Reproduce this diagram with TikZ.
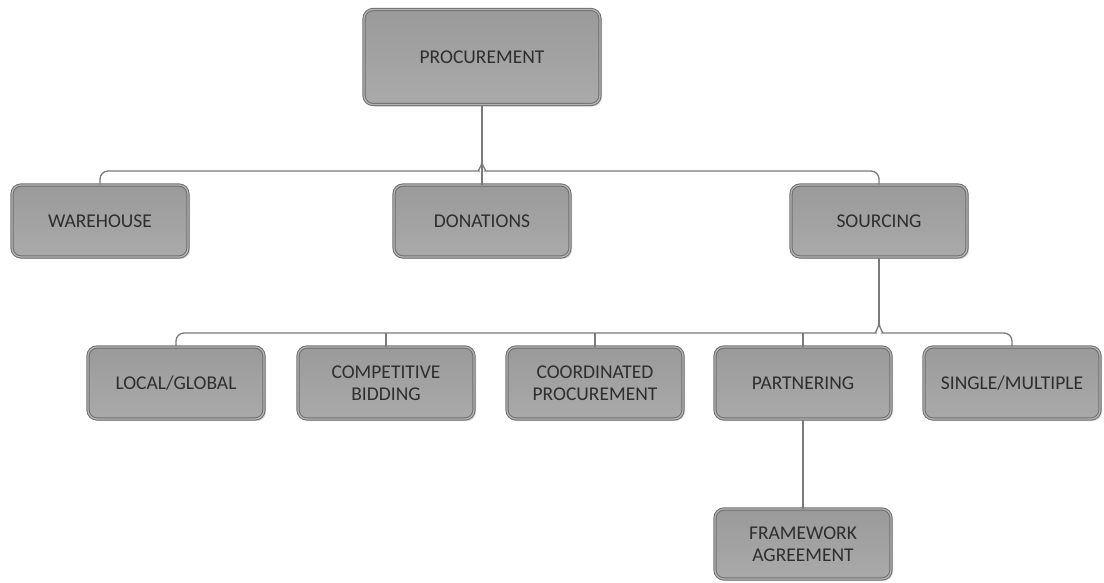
\documentclass[tikz,border=0pt]{standalone}
\usepackage{fontspec}
\setmainfont{Carlito}
\usetikzlibrary{shadows}
\definecolor{boxline}{HTML}{6E6E6E}
\definecolor{boxinner}{HTML}{B4B4B4}
\definecolor{boxdark}{HTML}{9A9A9A}
\definecolor{boxlight}{HTML}{AAAAAA}
\definecolor{conn}{HTML}{7A7A7A}
\definecolor{txt}{HTML}{2E2E2E}
\tikzset{
  box/.style={draw=boxline, double=boxinner, double distance=1.2pt, line width=1pt,
    rounded corners=9pt, top color=boxdark, bottom color=boxlight,
    text=txt, font=\fontsize{19.5}{22}\selectfont, align=center,
    minimum width=176pt, minimum height=72pt, inner sep=0pt,
    drop shadow={opacity=0.3, shadow xshift=2pt, shadow yshift=-2pt}},
  conn/.style={draw=conn, line width=1.3pt, rounded corners=8pt}
}
\begin{document}
\begin{tikzpicture}[x=1pt,y=-1pt]
\useasboundingbox (0,0) rectangle (1104,582);
\node[box, minimum width=236pt, minimum height=95pt] (proc) at (482,57) {PROCUREMENT};
\node[box] (ware) at (100,221) {WAREHOUSE};
\node[box] (don) at (482,221) {DONATIONS};
\node[box] (src) at (879,221) {SOURCING};
\node[box] (loc) at (176,383) {LOCAL/GLOBAL};
\node[box] (comp) at (386,383) {COMPETITIVE\\BIDDING};
\node[box] (coord) at (595,383) {COORDINATED\\PROCUREMENT};
\node[box] (part) at (803,383) {PARTNERING};
\node[box] (sing) at (1012,383) {SINGLE/MULTIPLE};
\node[box, minimum height=70pt] (frame) at (803,544) {FRAMEWORK\\AGREEMENT};
% level 1 connectors
\coordinate (j1) at (482,161);
\draw[conn] (proc.south) -- (don.north);
\draw[conn] (j1) to[out=-90,in=0] (471,171) -- (ware.north |- 0,171) -- (ware.north);
\draw[conn] (j1) to[out=-90,in=180] (493,171) -- (src.north |- 0,171) -- (src.north);
% level 2 connectors
\coordinate (j2) at (879,322);
\draw[conn] (src.south) -- (j2);
\draw[conn] (j2) to[out=-90,in=0] (868,333) -- (loc.north |- 0,333) -- (loc.north);
\draw[conn] (comp.north |- 0,333) -- (comp.north);
\draw[conn] (coord.north |- 0,333) -- (coord.north);
\draw[conn] (part.north |- 0,333) -- (part.north);
\draw[conn] (j2) to[out=-90,in=180] (890,333) -- (sing.north |- 0,333) -- (sing.north);
% level 3
\draw[conn] (part.south) -- (frame.north);
\end{tikzpicture}
\end{document}
